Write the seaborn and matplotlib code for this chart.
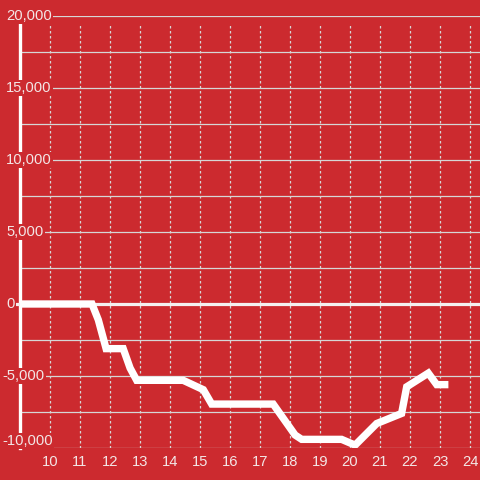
"""
Cumulative balance line on red background
"""

import pandas as pd
import numpy as np
import matplotlib
matplotlib.use("Agg")
import matplotlib.pyplot as plt
import matplotlib.transforms as mtransforms
import seaborn as sns

# data
hours = [9.0, 11.4, 11.61, 11.87, 12.44, 12.67, 12.89, 14.44, 15.11, 15.39,
         17.44, 18.17, 18.39, 19.72, 20.17, 20.89, 21.72, 21.89, 22.61, 22.89, 23.28]
balance = [0, 0, -1100, -3100, -3100, -4450, -5300, -5300, -5950, -6950,
           -6950, -9100, -9400, -9400, -9800, -8300, -7600, -5750, -4800, -5600, -5600]

x_ticks = list(range(10, 25))
y_ticks = [-10000, -5000, 0, 5000, 10000, 15000, 20000]
y_tick_labels = ['-10,000', '-5,000', '0', '5,000', '10,000', '15,000', '20,000']

BG = '#cc2a2f'
TXT = '#f3e6e6'
GRID = '#d6d6d6'

df = pd.DataFrame({'hour': hours, 'balance': balance})

sns.set_theme(style='white', rc={'axes.facecolor': BG, 'figure.facecolor': BG})
plt.rcParams['font.family'] = ['Liberation Sans', 'DejaVu Sans']

fig = plt.figure(figsize=(4.8, 4.8), dpi=100)
ax = fig.add_axes([20 / 480, 32 / 480, 460 / 480, 432 / 480])

sns.lineplot(data=df, x='hour', y='balance', color='white', linewidth=5.3,
             solid_joinstyle='miter', solid_capstyle='butt', ax=ax, zorder=4)

ax.set_xlim(9, 9 + 460 / 30)
ax.set_ylim(-10000, 20000)

# grid: solid horizontal every 2500, dotted vertical every hour
ax.set_yticks(np.arange(-10000, 20001, 2500))
ax.set_xticks(x_ticks)
ax.grid(axis='y', color=GRID, linewidth=0.9, linestyle='-')
ax.vlines(x_ticks, -10000, 19500, color=GRID, linewidth=0.9,
          linestyles=[(0, (2, 2))], zorder=0.8)
ax.set_axisbelow(True)
ax.tick_params(left=False, bottom=False, labelleft=False, labelbottom=False)

for side in ['top', 'right', 'bottom']:
    ax.spines[side].set_visible(False)
ax.spines['left'].set_color('white')
ax.spines['left'].set_linewidth(2.4)
ax.spines['left'].set_bounds(-10000, 19450)

# zero line
ax.axhline(0, xmin=-0.012, color='#f4f0f0', linewidth=2.3, clip_on=False, zorder=3)

# y tick labels sit over the plot, left aligned, with a red box behind them
trans_y = mtransforms.blended_transform_factory(fig.transFigure, ax.transData)
for val, lab in zip(y_ticks, y_tick_labels):
    va = 'bottom' if val == -10000 else 'center'
    x0 = 2 / 480 if val < 0 else 6 / 480
    ax.text(x0, val, lab, transform=trans_y, ha='left', va=va,
            color=TXT, fontsize=10.6, zorder=6, clip_on=False,
            bbox=dict(boxstyle='square,pad=0.1', fc=BG, ec='none'))

trans_x = ax.get_xaxis_transform()
for val in x_ticks:
    ax.text(val, -0.017, str(val), transform=trans_x, ha='center', va='top',
            color=TXT, fontsize=10.6, clip_on=False)

ax.set_xlabel('')
ax.set_ylabel('')

fig.savefig('out.png', dpi=100, facecolor=BG)
